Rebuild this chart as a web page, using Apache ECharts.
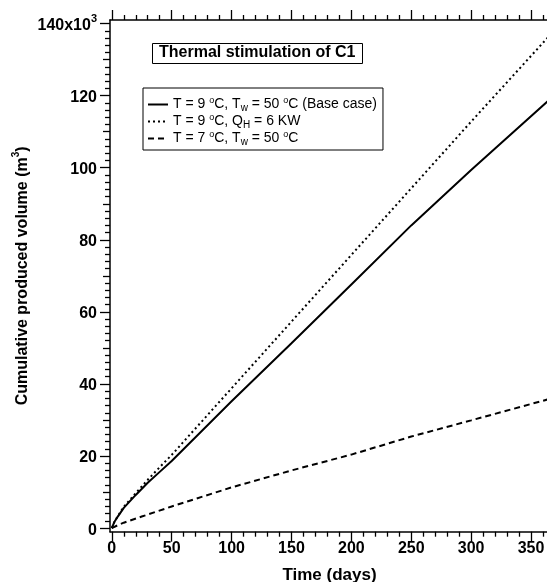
<!DOCTYPE html>
<html>
<head>
<meta charset="utf-8">
<script src="https://cdn.jsdelivr.net/npm/echarts@6/dist/echarts.min.js"></script>
<style>html,body{margin:0;padding:0;background:#fff}#c{width:547px;height:582px}</style>
</head>
<body>
<div id="c"></div>
<script>
// ---- data ----
var baseDays = [0, 2, 5, 10, 20, 30, 40, 50, 100, 150, 200, 250, 300, 365];
var baseVol  = [0, 1.6, 3.2, 5.6, 9.2, 12.6, 15.6, 18.6, 35.2, 51.3, 67.6, 84.0, 99.4, 118.8];
var qhDays = [0, 2, 5, 10, 20, 30, 40, 50, 100, 150, 200, 250, 300, 365];
var qhVol  = [0, 1.6, 3.3, 5.9, 9.7, 13.4, 16.9, 20.3, 38.8, 57.3, 75.8, 94.3, 112.8, 136.5];
var lowDays = [0, 5, 10, 25, 50, 100, 150, 200, 250, 300, 365];
var lowVol  = [0, 0.8, 1.5, 3.2, 6.0, 11.3, 16.0, 20.4, 25.4, 29.9, 35.8];
var xMajor = [0, 50, 100, 150, 200, 250, 300, 350];
var yMajor = [0, 20, 40, 60, 80, 100, 120, 140];
var seriesNames = ['base', 'qh', 'low'];

function zip(a, b) { return a.map(function (v, i) { return [v, b[i]]; }); }
var xMinor = []; for (var i = 10; i <= 360; i += 10) if (i % 50) xMinor.push(i);
var yMinor = []; for (var j = 2; j <= 140; j += 2) if (j % 10) yMinor.push(j);
var yMid = []; for (var k = 10; k <= 130; k += 20) yMid.push(k);

var FF = '"Liberation Sans", Arial, Helvetica, sans-serif';
var XMIN = -1.5, XMAX = 365, YMIN = -1, YMAX = 141;
var black = '#000';

function xAx(pos, ticks, len, showLine, showLabel, extra) {
  var o = {
    type: 'value', position: pos, min: XMIN, max: XMAX, gridIndex: 0,
    splitLine: { show: false },
    axisLine: { show: showLine, onZero: false, lineStyle: { color: black, width: 1.5 } },
    axisTick: { show: true, customValues: ticks, length: len, inside: false, lineStyle: { color: black, width: 1.3 } },
    axisLabel: showLabel ? { show: true, customValues: ticks, margin: 9, color: black, fontFamily: FF, fontWeight: 'bold', fontSize: 16 } : { show: false }
  };
  for (var p in extra) o[p] = extra[p];
  return o;
}
function yAx(ticks, len, showLine, showLabel, extra) {
  var o = {
    type: 'value', position: 'left', min: YMIN, max: YMAX, gridIndex: 0,
    splitLine: { show: false },
    axisLine: { show: showLine, onZero: false, lineStyle: { color: black, width: 1.5 } },
    axisTick: { show: true, customValues: ticks, length: len, inside: false, lineStyle: { color: black, width: 1.3 } },
    axisLabel: showLabel ? {
      show: true, customValues: ticks, margin: 13, color: black, fontFamily: FF, fontWeight: 'bold', fontSize: 16,
      formatter: function (v) { return v === 140 ? '{b|140x10}{s|3}' : '{b|' + v + '}'; },
      rich: {
        b: { fontFamily: FF, fontWeight: 'bold', fontSize: 16, color: black, lineHeight: 20, verticalAlign: 'bottom' },
        s: { fontFamily: FF, fontWeight: 'bold', fontSize: 11, color: black, lineHeight: 20, verticalAlign: 'top', padding: [0, 0, 7, 0] }
      }
    } : { show: false }
  };
  for (var p in extra) o[p] = extra[p];
  return o;
}

var legendRich = {
  n: { fontFamily: FF, fontSize: 14, color: black, lineHeight: 17, verticalAlign: 'middle' },
  sup: { fontFamily: FF, fontSize: 9, color: black, lineHeight: 17, verticalAlign: 'top', padding: [0, 0, 2, 0] },
  sub: { fontFamily: FF, fontSize: 10, color: black, lineHeight: 17, verticalAlign: 'bottom', padding: [3, 0, 0, 0] }
};
var legendText = {
  base: '{n|T = 9 }{sup|o}{n|C, T}{sub|w}{n| = 50 }{sup|o}{n|C (Base case)}',
  qh: '{n|T = 9 }{sup|o}{n|C, Q}{sub|H}{n| = 6 KW}',
  low: '{n|T = 7 }{sup|o}{n|C, T}{sub|w}{n| = 50 }{sup|o}{n|C}'
};

var chart = echarts.init(document.getElementById('c'), null, { renderer: 'canvas' });
chart.setOption({
  backgroundColor: '#fff',
  animation: false,
  title: {
    text: 'Thermal stimulation of C1', left: 152, top: 43,
    borderWidth: 1, borderColor: black, padding: [2, 7, 3, 7],
    textStyle: { fontFamily: FF, fontWeight: 'bold', fontSize: 16, color: black }
  },
  legend: {
    orient: 'vertical', left: 143, top: 88,
    data: seriesNames,
    borderWidth: 1, borderColor: black, padding: [8, 6, 3, 4],
    itemWidth: 20, itemHeight: 12, itemGap: 0,
    itemStyle: { opacity: 0 },
    formatter: function (n) { return legendText[n]; },
    textStyle: { rich: legendRich, fontFamily: FF, fontSize: 14, color: black },
    selectedMode: false
  },
  grid: { left: 110, top: 20, width: 439, height: 511.7, outerBoundsMode: 'none', containLabel: false },
  xAxis: [
    xAx('bottom', xMajor, 10, true, true, {
      name: 'Time (days)', nameLocation: 'middle', nameGap: 35, nameMoveOverlap: false,
      nameTextStyle: { fontFamily: FF, fontWeight: 'bold', fontSize: 17, color: black }
    }),
    xAx('bottom', xMinor, 5, false, false, {}),
    xAx('top', xMajor, 10, true, false, {}),
    xAx('top', xMinor, 5, false, false, {})
  ],
  yAxis: [
    yAx(yMajor, 10, true, true, {
      name: '{t|Cumulative produced volume (m}{s|3}{t|)}', nameLocation: 'middle', nameGap: 79, nameRotate: 90,
      nameMoveOverlap: false,
      nameTextStyle: {
        rich: {
          t: { fontFamily: FF, fontWeight: 'bold', fontSize: 16, color: black, lineHeight: 20, verticalAlign: 'bottom' },
          s: { fontFamily: FF, fontWeight: 'bold', fontSize: 10, color: black, lineHeight: 20, verticalAlign: 'top' }
        }
      }
    }),
    yAx(yMinor, 5, false, false, {}),
    yAx(yMid, 7, false, false, {})
  ],
  series: [
    { name: 'base', type: 'line', xAxisIndex: 0, yAxisIndex: 0, data: zip(baseDays, baseVol), symbol: 'none', showSymbol: false,
      lineStyle: { color: black, width: 2, type: 'solid' }, itemStyle: { color: black } },
    { name: 'qh', type: 'line', xAxisIndex: 0, yAxisIndex: 0, data: zip(qhDays, qhVol), symbol: 'none', showSymbol: false,
      lineStyle: { color: black, width: 2, type: [2, 3] }, itemStyle: { color: black } },
    { name: 'low', type: 'line', xAxisIndex: 0, yAxisIndex: 0, data: zip(lowDays, lowVol), symbol: 'none', showSymbol: false,
      lineStyle: { color: black, width: 2, type: [6, 4] }, itemStyle: { color: black } }
  ]
});
</script>
</body>
</html>
